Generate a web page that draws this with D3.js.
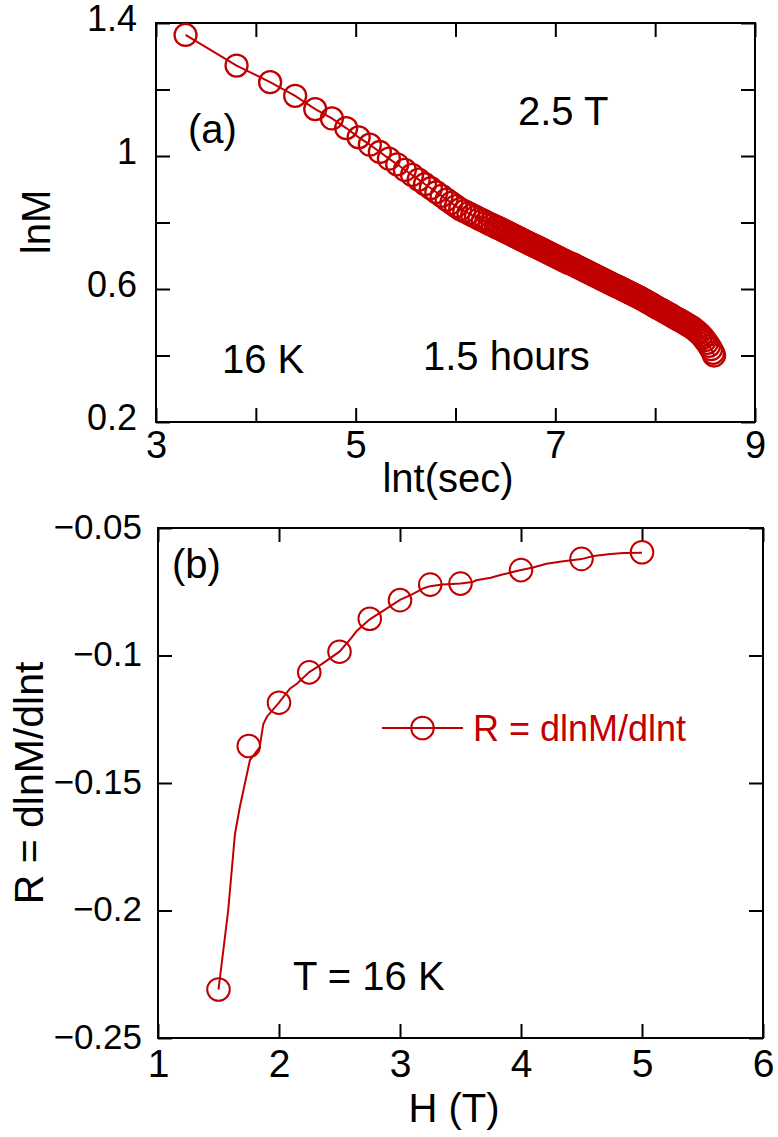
<!DOCTYPE html>
<html>
<head>
<meta charset="utf-8">
<script src="https://cdn.jsdelivr.net/npm/d3@7"></script>
<style>
  body { margin: 0; background: #fff; }
  svg text { font-family: "Liberation Sans", Arial, sans-serif; fill: #000; }
</style>
</head>
<body>
<svg id="fig" width="778" height="1137"></svg>
<script>
// ---- panel (a): lnM vs lnt, 16 K, 2.5 T, 1.5 hours ----
const lnTime = [
  3.296, 3.807, 4.143, 4.394, 4.595, 4.762, 4.905, 5.030, 5.142, 5.242,
  5.333, 5.416, 5.493, 5.565, 5.631, 5.694, 5.753, 5.808, 5.861, 5.911,
  5.958, 6.004, 6.047, 6.088, 6.129, 6.167, 6.204, 6.240, 6.275, 6.308,
  6.341, 6.372, 6.403, 6.42, 6.44, 6.46, 6.48, 6.50, 6.52, 6.54,
  6.56, 6.58, 6.60, 6.62, 6.64, 6.66, 6.68, 6.70, 6.72, 6.74,
  6.76, 6.78, 6.80, 6.82, 6.84, 6.86, 6.88, 6.90, 6.92,
  6.94, 6.96, 6.98, 7.00, 7.02, 7.04, 7.06, 7.08, 7.10, 7.12,
  7.14, 7.16, 7.18, 7.20, 7.22, 7.24, 7.26, 7.28, 7.30, 7.32,
  7.34, 7.36, 7.38, 7.40, 7.42, 7.44, 7.46, 7.48, 7.50, 7.52,
  7.54, 7.56, 7.58, 7.60, 7.62, 7.64, 7.66, 7.68, 7.70, 7.72,
  7.74, 7.76, 7.78, 7.80, 7.82, 7.84, 7.86, 7.88, 7.90, 7.92,
  7.94, 7.96, 7.98, 8.00, 8.02, 8.04, 8.06, 8.08, 8.10, 8.12,
  8.14, 8.16, 8.18, 8.20, 8.22, 8.24, 8.26, 8.28, 8.30, 8.32,
  8.34, 8.36, 8.38, 8.40, 8.42, 8.44, 8.46, 8.48, 8.50, 8.52,
  8.54, 8.56, 8.58, 8.59
];
const lnM = [
  1.364, 1.272, 1.222, 1.181, 1.141, 1.113, 1.084, 1.056, 1.034, 1.012,
  0.992, 0.975, 0.958, 0.943, 0.929, 0.915, 0.903, 0.891, 0.880, 0.869,
  0.859, 0.849, 0.840, 0.834, 0.828, 0.822, 0.817, 0.811, 0.806, 0.801,
  0.796, 0.792, 0.787, 0.785, 0.782, 0.779, 0.776, 0.773, 0.770, 0.767,
  0.764, 0.761, 0.758, 0.755, 0.752, 0.749, 0.746, 0.743, 0.740, 0.737,
  0.734, 0.731, 0.729, 0.726, 0.723, 0.720, 0.717, 0.714, 0.711,
  0.708, 0.705, 0.702, 0.699, 0.696, 0.693, 0.690, 0.687, 0.684, 0.681,
  0.678, 0.676, 0.673, 0.670, 0.667, 0.664, 0.661, 0.658, 0.655, 0.652,
  0.649, 0.646, 0.643, 0.640, 0.637, 0.634, 0.631, 0.628, 0.625, 0.622,
  0.619, 0.616, 0.613, 0.610, 0.608, 0.605, 0.602, 0.599, 0.596, 0.593,
  0.590, 0.587, 0.584, 0.581, 0.578, 0.575, 0.572, 0.568, 0.565, 0.561,
  0.558, 0.555, 0.551, 0.548, 0.544, 0.541, 0.538, 0.534, 0.531, 0.527,
  0.524, 0.521, 0.517, 0.514, 0.510, 0.507, 0.504, 0.500, 0.497, 0.493,
  0.490, 0.486, 0.482, 0.477, 0.472, 0.467, 0.461, 0.454, 0.446, 0.438,
  0.429, 0.419, 0.408, 0.400
];
const aXTicks = [3, 4, 5, 6, 7, 8, 9];
const aXLabels = {3: '3', 5: '5', 7: '7', 9: '9'};
const aYTicks = [0.2, 0.4, 0.6, 0.8, 1.0, 1.2, 1.4];
const aYLabels = {0.2: '0.2', 0.6: '0.6', 1: '1', 1.4: '1.4'};

// ---- panel (b): R = dlnM/dlnt vs H ----
const fieldLine = [1.5, 1.58, 1.636, 1.678, 1.76, 1.84, 1.87, 1.9, 2.0, 2.09, 2.15, 2.25, 2.35, 2.5,
  2.6, 2.64, 2.75, 2.85, 3.0, 3.1, 3.2, 3.25, 3.35, 3.5, 3.6, 3.63, 3.75, 3.83, 4.0, 4.1, 4.21,
  4.35, 4.5, 4.6, 4.74, 4.85, 5.0];
const rateLine = [-0.231, -0.200, -0.170, -0.159, -0.141, -0.136, -0.127, -0.124, -0.1185, -0.113,
  -0.111, -0.1065, -0.1035, -0.0985, -0.093, -0.0905, -0.0858, -0.0828, -0.0782, -0.076, -0.0735,
  -0.0728, -0.0722, -0.0718, -0.0712, -0.0705, -0.0695, -0.0684, -0.0665, -0.0655, -0.064,
  -0.063, -0.0622, -0.061, -0.0602, -0.0598, -0.0597];
const fieldPts = [1.5, 1.75, 2.0, 2.25, 2.5, 2.75, 3.0, 3.25, 3.5, 4.0, 4.5, 5.0];
const ratePts = [-0.231, -0.1355, -0.1185, -0.1066, -0.0985, -0.0856, -0.0783, -0.0722, -0.0718, -0.0665, -0.0621, -0.0595];
const bXTicks = [1, 2, 3, 4, 5, 6];
const bYTicks = [-0.25, -0.2, -0.15, -0.1, -0.05];

const red = '#c00000';
const svg = d3.select('#fig');

function frame(g, x, y, cfg) {
  const [x0, x1] = x.range();
  const [y0, y1] = y.range();
  const tl = 14;

  const bottom = g.append('g').attr('transform', `translate(0,${y0})`)
    .call(d3.axisBottom(x).tickValues(cfg.xTicks).tickSizeInner(-tl).tickSizeOuter(0)
      .tickFormat(cfg.xFmt));
  const top = g.append('g').attr('transform', `translate(0,${y1})`)
    .call(d3.axisTop(x).tickValues(cfg.xTicks).tickSizeInner(-tl).tickSizeOuter(0).tickFormat(''));
  const left = g.append('g').attr('transform', `translate(${x0},0)`)
    .call(d3.axisLeft(y).tickValues(cfg.yTicks).tickSizeInner(-tl).tickSizeOuter(0)
      .tickFormat(cfg.yFmt));
  const right = g.append('g').attr('transform', `translate(${x1},0)`)
    .call(d3.axisRight(y).tickValues(cfg.yTicks).tickSizeInner(-tl).tickSizeOuter(0).tickFormat(''));

  [bottom, top, left, right].forEach(a => {
    a.select('.domain').remove();
    a.selectAll('.tick line').attr('stroke', '#000').attr('stroke-width', 2);
  });

  bottom.selectAll('.tick text')
    .attr('y', cfg.xLabelDy).attr('dy', null)
    .style('font-size', cfg.xFont + 'px').attr('fill', '#000');
  left.selectAll('.tick text')
    .attr('x', -cfg.yLabelGap).attr('dy', null).attr('y', cfg.yLabelDy)
    .style('font-size', cfg.yFont + 'px').attr('fill', '#000');

  g.append('rect')
    .attr('x', x0).attr('y', y1)
    .attr('width', x1 - x0).attr('height', y0 - y1)
    .attr('fill', 'none').attr('stroke', '#000').attr('stroke-width', 2);
}

function label(g, txt, x, y, size, anchor, rot) {
  const t = g.append('text').attr('font-size', size).attr('text-anchor', anchor || 'start').text(txt);
  if (rot) t.attr('transform', `translate(${x},${y}) rotate(-90)`);
  else t.attr('x', x).attr('y', y);
  return t;
}

// ---------------- panel (a) ----------------
const xa = d3.scaleLinear().domain([3, 9]).range([156, 755]);
const ya = d3.scaleLinear().domain([0.2, 1.4]).range([422, 23]);
const ga = svg.append('g');

frame(ga, xa, ya, {
  xTicks: aXTicks, yTicks: aYTicks,
  xFmt: d => aXLabels[d] || '',
  yFmt: d => aYLabels[+d.toFixed(1)] || '',
  xLabelDy: 36, xFont: 38, yLabelGap: 19, yLabelDy: 7.5, yFont: 36
});

const ptsA = lnTime.map((t, i) => ({x: t, y: lnM[i]}));
ga.append('path')
  .datum(ptsA)
  .attr('fill', 'none').attr('stroke', red).attr('stroke-width', 2)
  .attr('d', d3.line().x(d => xa(d.x)).y(d => ya(d.y)));
ga.selectAll('.pa')
  .data(ptsA)
  .join('circle')
  .attr('class', 'pa')
  .attr('cx', d => xa(d.x)).attr('cy', d => ya(d.y)).attr('r', 11)
  .attr('fill', 'none').attr('stroke', red).attr('stroke-width', 2.3);

label(ga, '(a)', 188, 143, 40);
label(ga, '2.5 T', 518, 125, 40);
label(ga, '16 K', 222, 373, 40);
label(ga, '1.5 hours', 423, 370, 40);
label(ga, 'lnt(sec)', 448, 492, 40, 'middle');
label(ga, 'lnM', 50, 222, 40, 'middle', true);

// ---------------- panel (b) ----------------
const xb = d3.scaleLinear().domain([1, 6]).range([158, 763]);
const yb = d3.scaleLinear().domain([-0.25, -0.05]).range([1038, 528]);
const gb = svg.append('g');

frame(gb, xb, yb, {
  xTicks: bXTicks, yTicks: bYTicks,
  xFmt: d3.format('d'),
  yFmt: d3.format(''),
  xLabelDy: 39, xFont: 39, yLabelGap: 16, yLabelDy: 10, yFont: 35
});

const lineB = fieldLine.map((h, i) => ({x: h, y: rateLine[i]}));
gb.append('path')
  .datum(lineB)
  .attr('fill', 'none').attr('stroke', red).attr('stroke-width', 2)
  .attr('d', d3.line().x(d => xb(d.x)).y(d => yb(d.y)));
gb.selectAll('.pb')
  .data(fieldPts.map((h, i) => ({x: h, y: ratePts[i]})))
  .join('circle')
  .attr('class', 'pb')
  .attr('cx', d => xb(d.x)).attr('cy', d => yb(d.y)).attr('r', 11.3)
  .attr('fill', 'none').attr('stroke', red).attr('stroke-width', 2);

// legend
const leg = gb.append('g').attr('transform', 'translate(382,728)');
leg.append('line').attr('x1', 0).attr('x2', 81).attr('y1', 0).attr('y2', 0)
  .attr('stroke', red).attr('stroke-width', 2);
leg.append('circle').attr('cx', 40.5).attr('cy', 0).attr('r', 11.3)
  .attr('fill', 'none').attr('stroke', red).attr('stroke-width', 2);
leg.append('text').attr('x', 91).attr('y', 13).attr('font-size', 36)
  .style('fill', red).text('R = dlnM/dlnt');

label(gb, '(b)', 172, 578, 40);
label(gb, 'T = 16 K', 293, 990, 40);
label(gb, 'H (T)', 454, 1122, 40, 'middle');
label(gb, 'R = dlnM/dlnt', 43, 783, 41, 'middle', true);
</script>
</body>
</html>
